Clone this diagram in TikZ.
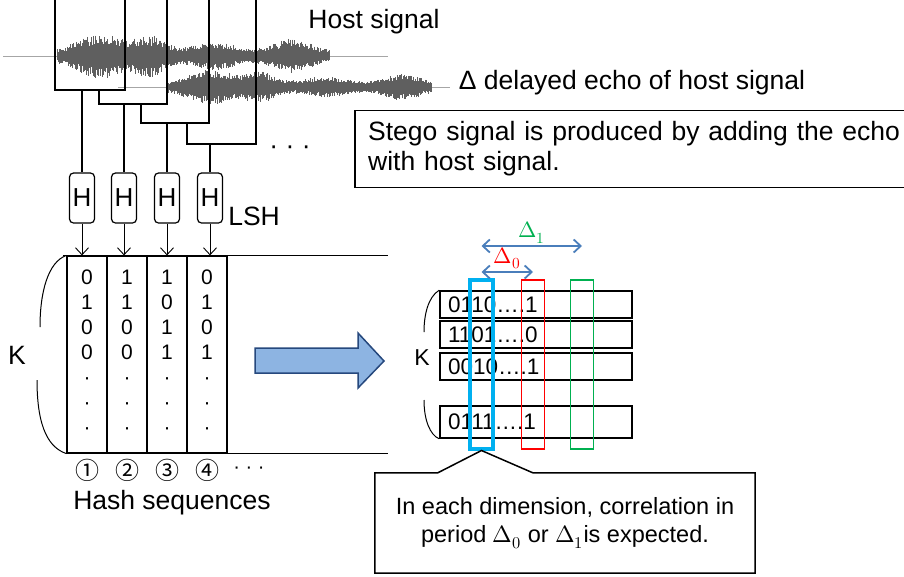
\documentclass[tikz,border=0pt]{standalone}
\usepackage{fontspec}
\usepackage{unicode-math}
\setmainfont{Liberation Sans}
\setmathfont{Latin Modern Math}
\newfontfamily\circfont{Noto Sans CJK JP}
\usetikzlibrary{arrows.meta, positioning, calc}

\definecolor{wavegray}{RGB}{95,95,95}
\definecolor{arrowfill}{RGB}{141,180,226}
\definecolor{arrowdraw}{RGB}{38,72,125}
\definecolor{deltablue}{RGB}{74,126,187}
\definecolor{selcyan}{RGB}{0,176,240}
\definecolor{selred}{RGB}{255,0,0}
\definecolor{selgreen}{RGB}{0,176,80}

\begin{document}
\begin{tikzpicture}[
  x=1pt, y=-1pt,
  every node/.style={inner sep=0pt},
  declare function={hostenv(\t)=5+18*exp(-((\t-100)/30)^2)+15*exp(-((\t-150)/20)^2)
                     +9*exp(-((\t-215)/30)^2)+13*exp(-((\t-292)/24)^2);},
  big/.style={font=\fontsize{26.5}{30}\selectfont},
  wave/.style={draw=wavegray, line width=0.45pt},
  baseln/.style={draw=gray!70, line width=0.5pt},
  win/.style={draw, line width=1.2pt},
  hbox/.style={draw, line width=1.2pt, rounded corners=4pt, minimum width=25pt,
               minimum height=50pt, font=\fontsize{26}{30}\selectfont},
  down/.style={-{Straight Barb[length=7pt, width=13pt]}, line width=0.9pt},
  seqcol/.style={draw, line width=1.2pt, minimum width=40pt, minimum height=197pt},
  bits/.style={align=center, font=\fontsize{21}{25}\selectfont},
  circ/.style={font=\circfont\fontsize{24}{28}\selectfont},
  seqrow/.style={draw, line width=1.6pt, minimum width=192pt, inner xsep=8pt,
                 text width=176pt, align=left, font=\fontsize{22.5}{26}\selectfont},
  sel/.style={minimum width=23pt, minimum height=169pt},
  darrow/.style={draw=deltablue, line width=1.8pt,
                 {Straight Barb[length=7pt, width=13pt]}-{Straight Barb[length=7pt, width=13pt]}},
  brace/.style={draw, line width=1pt},
]
\useasboundingbox (0,0) rectangle (904,576);

% ---- waveforms ----
\pgfmathsetseed{7}
\draw[baseln] (3,56) -- (388,56);
\draw[baseln] (118,87) -- (450,87);
\foreach \x in {57,57.9,...,330} {
  \pgfmathsetmacro\up{hostenv(\x)*(0.5+0.5*rnd)}
  \pgfmathsetmacro\dn{hostenv(\x)*(0.5+0.5*rnd)}
  \draw[wave] (\x,56-\up) -- (\x,56+\dn);
}
\foreach \x in {168,168.9,...,432} {
  \pgfmathsetmacro\up{0.75*hostenv(\x-110)*(0.5+0.5*rnd)}
  \pgfmathsetmacro\dn{0.75*hostenv(\x-110)*(0.5+0.5*rnd)}
  \draw[wave] (\x,87-\up) -- (\x,87+\dn);
}

\node[big] (host) at (374,22) {Host signal};
\node[big] (echo) at (632,83) {Δ delayed echo of host signal};
\node[big, anchor=west, minimum height=76pt, inner xsep=13pt,
      text width=560pt, align=left] (stego) at (355,149)
      {Stego signal is produced by adding the echo\\with host signal.};
\draw[line width=1.2pt] (stego.north east) -- (stego.north west)
      -- (stego.south west) -- (stego.south east);

% ---- windows + hash functions ----
\draw[win] (55,0) |- (125,90) -- (125,0);
\draw[win] (99,90) |- (167,104) -- (167,0);
\draw[win] (141,104) |- (209,123) -- (209,0);
\draw[win] (187,123) |- (256,144) -- (256,0);
\node[big] (dotsA) at (290,150) {· · ·};

\node[hbox] (h1) at (82,198)  {H};
\node[hbox] (h2) at (124,198) {H};
\node[hbox] (h3) at (167,198) {H};
\node[hbox] (h4) at (210,198) {H};
\node[big, right=5pt of h4.south east, anchor=south west, yshift=-2pt] (lsh) {LSH};

\coordinate (w1) at (82,90);
\coordinate (w2) at (124,104);
\coordinate (w3) at (167,123);
\coordinate (w4) at (210,144);
\foreach \i in {1,...,4} \draw[win] (w\i) -- (h\i.north);

% ---- hash sequences ----
\node[seqcol] (c1) at (87,354.5)  {};
\node[seqcol] (c2) at (127,354.5) {};
\node[seqcol] (c3) at (167,354.5) {};
\node[seqcol] (c4) at (207,354.5) {};
\coordinate (tabR) at (388,0);
\draw[line width=1.2pt] ([xshift=-3pt]c1.north west) -- (c1.north west -| tabR);
\draw[line width=1.2pt] (c1.south west) -- (c1.south west -| tabR);
\foreach \i in {1,...,4} \draw[down] (h\i.south) -- (h\i.south |- c\i.north);

\node[bits] (b1) at (87,352)  {0\\1\\0\\0\\·\\·\\·};
\node[bits] (b2) at (127,352) {1\\1\\0\\0\\·\\·\\·};
\node[bits] (b3) at (167,352) {1\\0\\1\\1\\·\\·\\·};
\node[bits] (b4) at (207,352) {0\\1\\0\\1\\·\\·\\·};

\draw[brace] (c1.north west) .. controls (48,262) and (40,292) .. (40,327);
\draw[brace] (37,380) .. controls (37,430) and (50,448) .. (c1.south west);
\node[big] (kL) at (17,355) {K};

\node[circ] (n1) at (87,470)  {①};
\node[circ] (n2) at (127,470) {②};
\node[circ] (n3) at (167,470) {③};
\node[circ] (n4) at (207,470) {④};
\node[font=\fontsize{20}{24}\selectfont] (dotsB) at (249,470) {· · ·};
\node[big] (hashlab) at (172,503) {Hash sequences};

% ---- block arrow ----
\draw[fill=arrowfill, draw=arrowdraw, line width=1.5pt, line join=miter]
  (255,348) -- (358,348) -- (358,333) -- (384,361) -- (358,388) -- (358,373)
  -- (255,373) -- cycle;

% ---- sequences as rows ----
\node[seqrow, minimum height=27pt] (r1) at (536,304.5) {0110….1};
\node[seqrow, minimum height=27pt] (r2) at (536,334.5) {1101….0};
\node[seqrow, minimum height=27pt] (r3) at (536,366.5) {0010….1};
\node[seqrow, minimum height=32pt] (r4) at (536,422)   {0111….1};
\draw[brace] (r1.north west) .. controls (428,297) and (424,315) .. (424,332);
\draw[brace] (424,400) .. controls (424,420) and (430,435) .. (r4.south west);
\node[font=\fontsize{23}{26}\selectfont] (kR) at (422,358) {K};

\node[sel, draw=selcyan, line width=4pt] (cyan)  at (481.5,364) {};
\node[sel, draw=selred, line width=1.7pt] (red)  at (533,364.5) {};
\node[sel, draw=selgreen, line width=1.7pt] (green) at (582,364.5) {};

\coordinate (d0l) at (cyan.center |- 0,272);
\coordinate (d0r) at (red.center |- 0,272);
\coordinate (d1l) at (cyan.center |- 0,246);
\coordinate (d1r) at (green.center |- 0,246);
\draw[darrow] (d0l) -- node[above=2pt, text=selred, font=\fontsize{22}{24}\selectfont] (lab0) {$\Delta_0$} (d0r);
\draw[darrow] (d1l) -- node[above=2pt, text=selgreen, font=\fontsize{22}{24}\selectfont] (lab1) {$\Delta_1$} (d1r);

% ---- callout ----
\node[minimum width=380pt, minimum height=100pt, align=center,
      font=\fontsize{23.5}{28}\selectfont] (note) at (565,523)
      {In each dimension, correlation in\\period $\Delta_0\ \mathrm{or}\ \Delta_1$is expected.};
\draw[line width=1.5pt, line join=miter] (note.north west) -- ++(63,0) -- (cyan.south)
  -- ($(note.north west)+(158,0)$) -- (note.north east) -- (note.south east)
  -- (note.south west) -- cycle;

\end{tikzpicture}
\end{document}
